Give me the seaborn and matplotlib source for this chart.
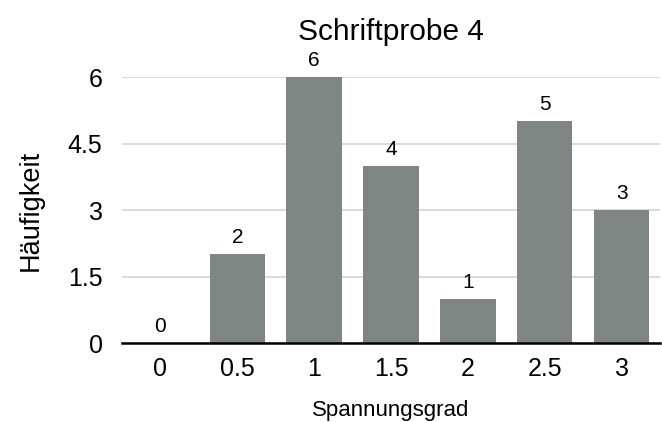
import matplotlib
matplotlib.use("Agg")
import matplotlib.pyplot as plt
import seaborn as sns
import pandas as pd

categories = ["0", "0.5", "1", "1.5", "2", "2.5", "3"]
values = [0, 2, 6, 4, 1, 5, 3]
yticks = [0, 1.5, 3, 4.5, 6]
ytick_labels = ["0", "1.5", "3", "4.5", "6"]

sns.set_theme(style="white")
plt.rcParams['font.family'] = ['Liberation Sans', 'DejaVu Sans']

df = pd.DataFrame({"Spannungsgrad": categories, "Häufigkeit": values})

fig = plt.figure(figsize=(6.62, 4.22), dpi=100)
ax = fig.add_axes([0.1843, 0.1872, 0.8127, 0.6303])

sns.barplot(data=df, x="Spannungsgrad", y="Häufigkeit", order=categories,
            color="#7f8582", saturation=1, width=0.72, linewidth=0,
            ax=ax, zorder=2)

ax.set_ylim(0, 6)
ax.set_xlim(-0.5, 6.5)
ax.set_yticks(yticks)
ax.set_yticklabels(ytick_labels)
ax.yaxis.grid(True, color="#d4d4d4", linewidth=1.2, zorder=0)
ax.set_axisbelow(True)
for s in ["top", "right", "left"]:
    ax.spines[s].set_visible(False)
ax.spines["bottom"].set_color("black")
ax.spines["bottom"].set_linewidth(1.8)
ax.spines["bottom"].set_zorder(3)
ax.tick_params(axis="both", length=0, labelsize=18, colors="black")
ax.tick_params(axis="y", pad=14)
ax.tick_params(axis="x", pad=10)

for i, v in enumerate(values):
    ax.annotate(str(v), xy=(i, v), xytext=(0, 8), textcoords="offset points",
                ha="center", va="baseline", fontsize=15, color="black",
                annotation_clip=False)

ax.set_xlabel("Spannungsgrad", fontsize=16, labelpad=14, color="black")
ax.set_ylabel("Häufigkeit", fontsize=19.5, labelpad=17, color="black")
ax.set_title("Schriftprobe 4", fontsize=21.5, pad=27, color="black")

fig.savefig("out.png", dpi=100)
